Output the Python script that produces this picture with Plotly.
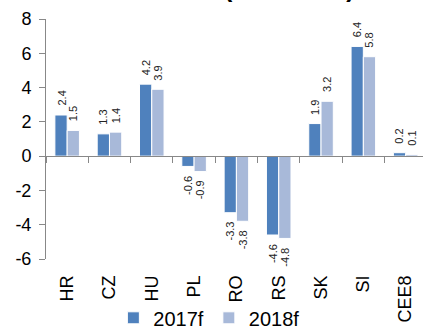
import plotly.graph_objects as go

# Current account balance forecasts, % of GDP
countries = ["HR", "CZ", "HU", "PL", "RO", "RS", "SK", "SI", "CEE8"]
ca_2017f = [2.4, 1.3, 4.2, -0.6, -3.3, -4.6, 1.9, 6.4, 0.2]
ca_2018f = [1.5, 1.4, 3.9, -0.9, -3.8, -4.8, 3.2, 5.8, 0.1]
y_ticks = [-6, -4, -2, 0, 2, 4, 6, 8]

FONT = "Liberation Sans, Arial, sans-serif"
AXIS_GRAY = "#888888"

W, H = 423, 331
M_L, M_R, M_T, M_B = 46, 0, 19, 72
X_RANGE = [-0.5, 8.41]
BARGAP = 0.42

series = [("2017f", ca_2017f, "#4F81BD"), ("2018f", ca_2018f, "#A8B9D9")]

fig = go.Figure()
for name, vals, color in series:
    fig.add_trace(go.Bar(
        name=name, x=countries, y=vals,
        marker=dict(color=color, line=dict(color="white", width=1)),
        cliponaxis=False,
    ))

# Invisible helper trace so the zero-crossing category axis gets its ticks
fig.add_trace(go.Scatter(
    x=countries, y=ca_2017f, xaxis="x2", mode="markers",
    marker=dict(opacity=0), showlegend=False, hoverinfo="skip",
))

# Rotated value labels above / below each bar
cat_px = (W - M_L - M_R) / (X_RANGE[1] - X_RANGE[0])
bar_px = cat_px * (1 - BARGAP) / len(series)
labels = []
for i, (name, vals, color) in enumerate(series):
    shift = (i - (len(series) - 1) / 2) * bar_px
    for c, v in zip(countries, vals):
        labels.append(dict(
            x=c, y=v, xref="x", yref="y", text=f"{v:.1f}",
            textangle=-90, showarrow=False,
            xanchor="center", yanchor="bottom" if v >= 0 else "top",
            xshift=shift, yshift=7 if v >= 0 else -7,
            font=dict(family=FONT, size=11, color="#222222"),
        ))

y_min, y_max = y_ticks[0], y_ticks[-1]
zero_pos = (0 - y_min) / (y_max - y_min)

labels.append(dict(
    text="<b>(% of GDP)</b>", xref="paper", yref="paper",
    x=0.647, y=1.063, xanchor="center", yanchor="bottom",
    showarrow=False, font=dict(size=25, color="black"),
))

fig.update_layout(
    width=W, height=H,
    margin=dict(l=M_L, r=M_R, t=M_T, b=M_B, autoexpand=False),
    paper_bgcolor="white", plot_bgcolor="white",
    barmode="group", bargap=BARGAP, bargroupgap=0,
    font=dict(family=FONT, color="black"),
    xaxis=dict(
        type="category", range=X_RANGE, automargin=False,
        showline=False, showgrid=False, zeroline=False, ticks="",
        tickangle=-90, tickfont=dict(size=18), ticklabelstandoff=12,
    ),
    xaxis2=dict(
        type="category", overlaying="x", matches="x",
        anchor="free", position=zero_pos, side="bottom",
        showline=True, linecolor=AXIS_GRAY, linewidth=1,
        ticks="outside", tickson="boundaries", ticklen=6,
        tickcolor=AXIS_GRAY, showticklabels=False,
        showgrid=False, zeroline=False, automargin=False,
    ),
    yaxis=dict(
        range=[y_min, y_max], tickvals=y_ticks,
        ticktext=[str(v) for v in y_ticks], automargin=False,
        showline=True, linecolor=AXIS_GRAY, linewidth=1,
        ticks="outside", ticklen=6, tickcolor=AXIS_GRAY,
        showgrid=False, zeroline=False,
        tickfont=dict(size=18), ticklabelstandoff=4,
    ),
    legend=dict(
        orientation="h", x=0.432, xanchor="center", y=-0.245, yanchor="middle",
        font=dict(size=20), bgcolor="rgba(0,0,0,0)",
        traceorder="normal",
    ),
    annotations=labels,
)

fig.write_html("out.html")
